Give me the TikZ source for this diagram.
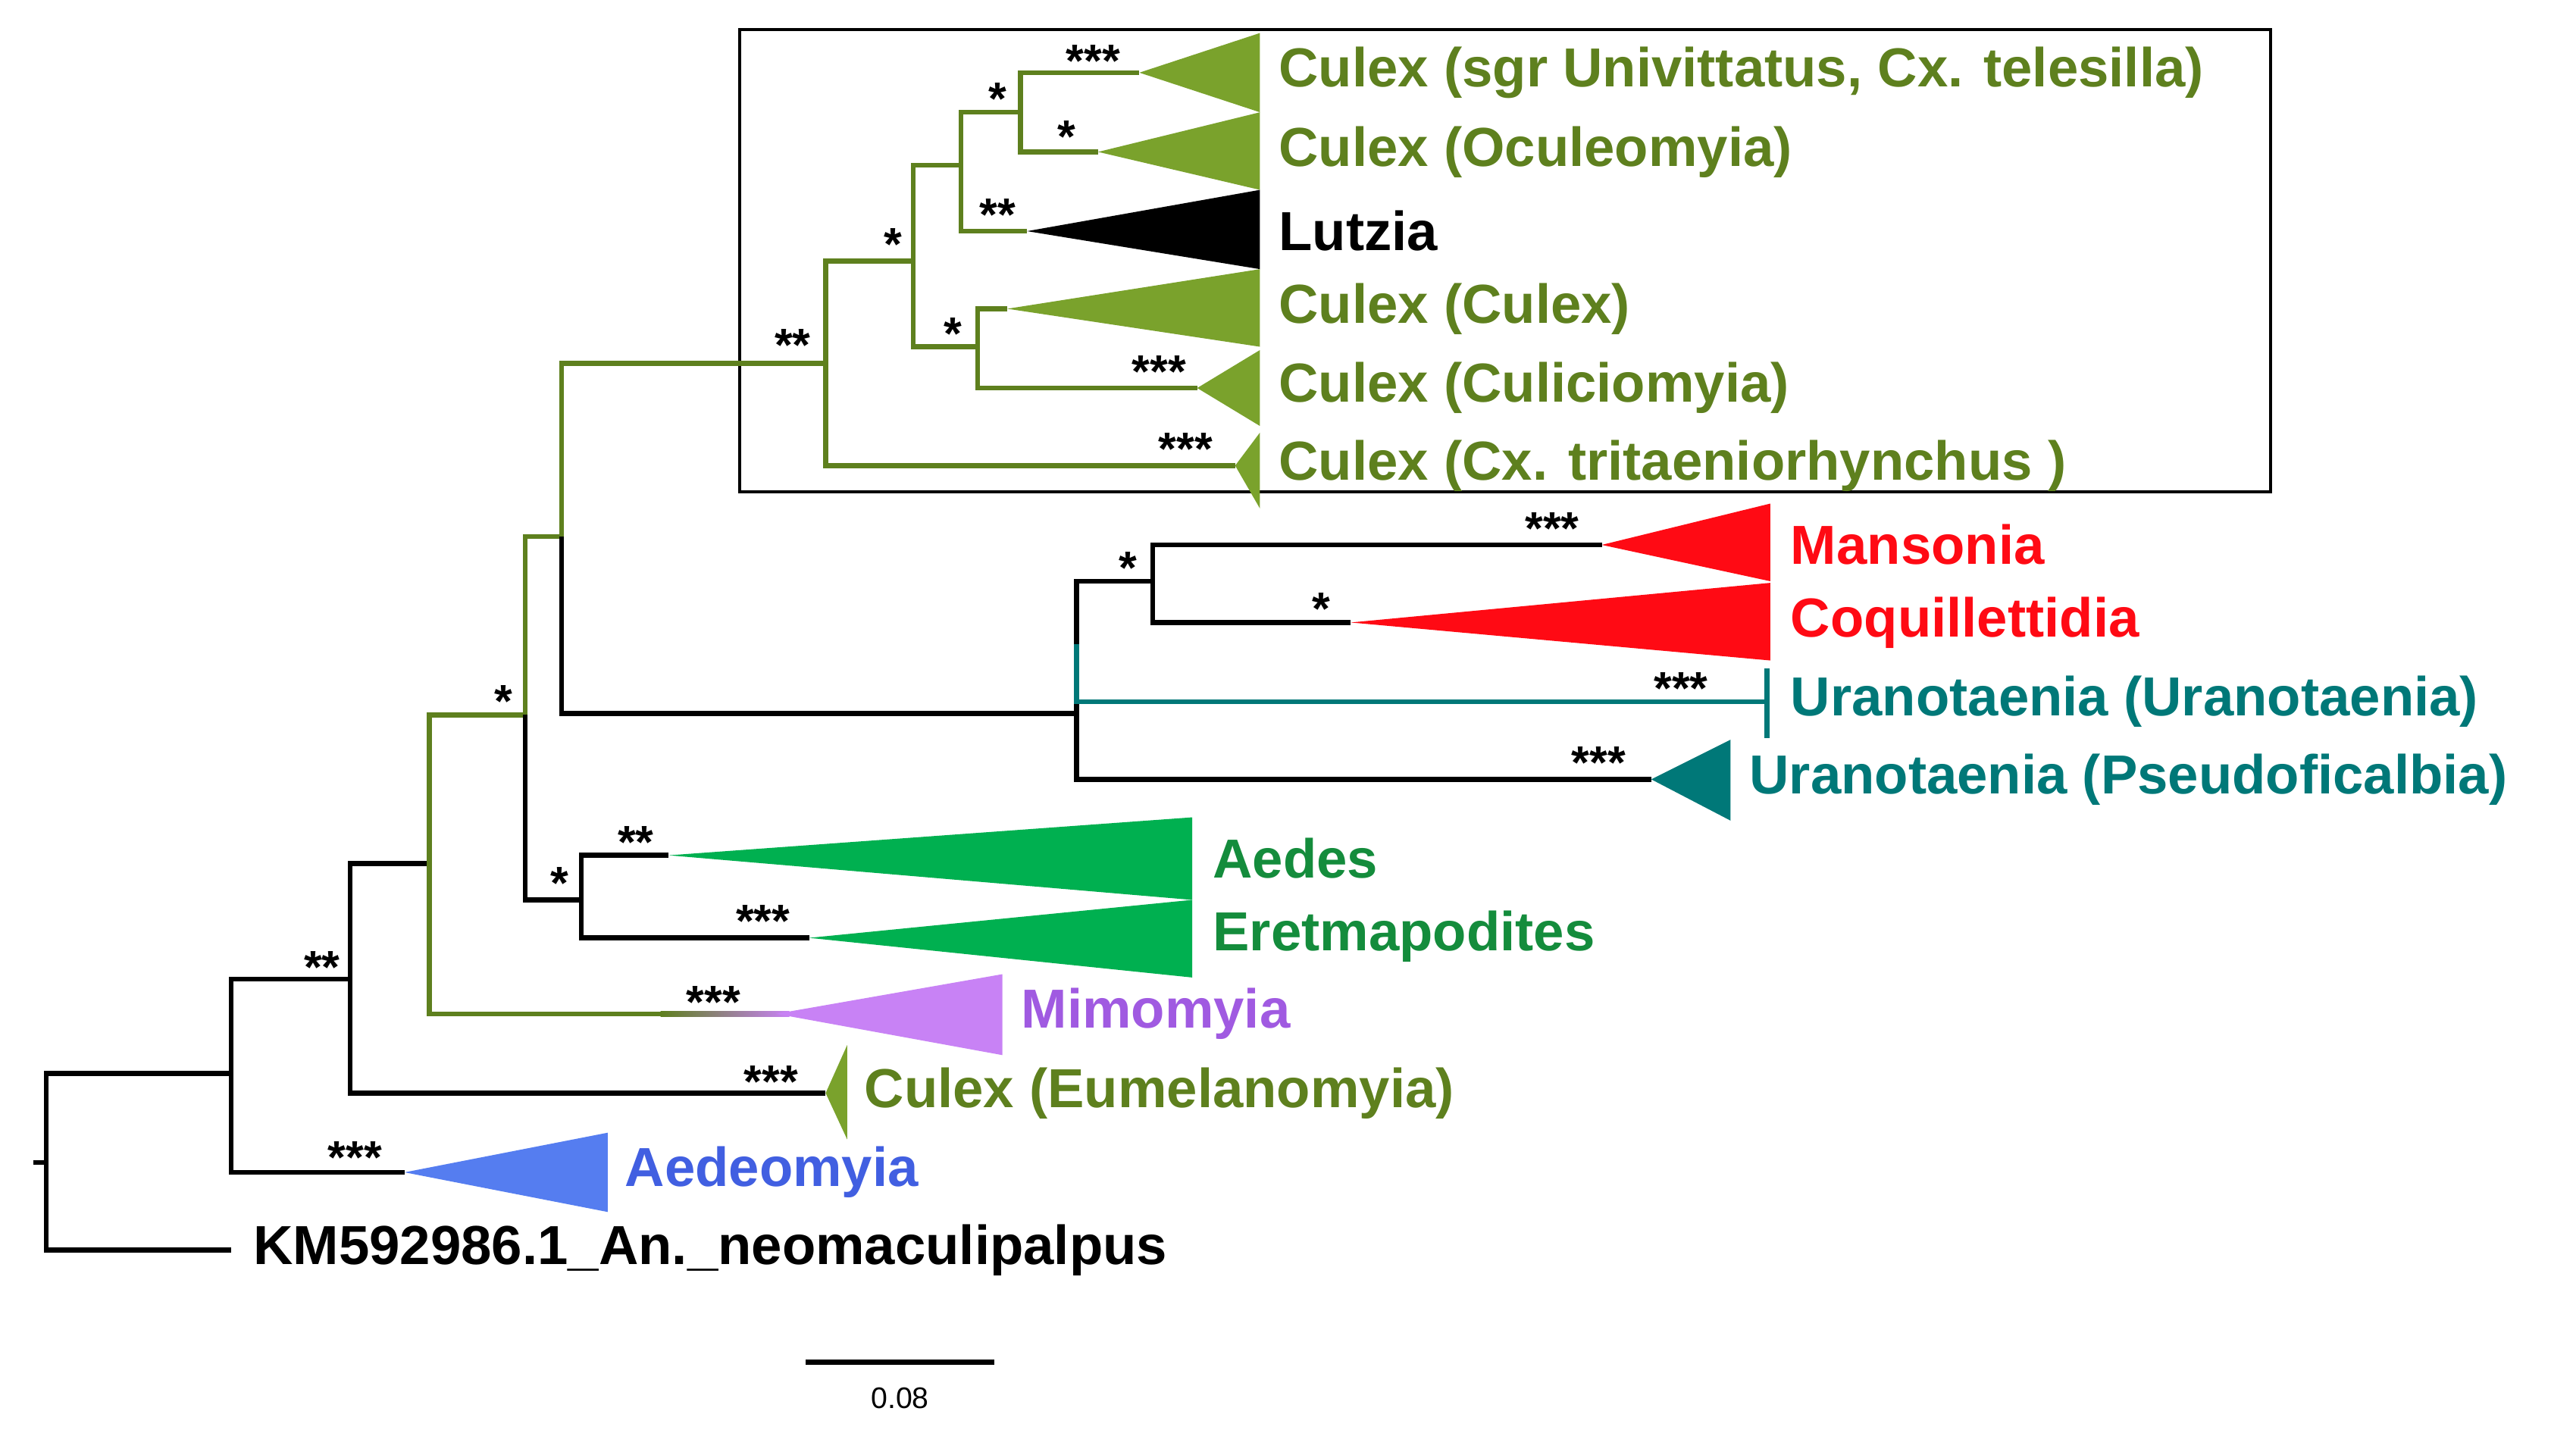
\documentclass[tikz,border=0pt]{standalone}
\usepackage{fontspec}
\setmainfont{Liberation Sans}
\begin{document}
\begin{tikzpicture}[x=1pt,y=-1pt,line width=3pt,
  lab/.style={font=\bfseries\fontsize{33.3}{34}\selectfont,anchor=west,inner sep=0pt},
  st/.style={font=\bfseries\fontsize{28}{28}\selectfont,inner sep=0pt}]
\definecolor{olv}{RGB}{94,128,30}
\definecolor{olvf}{RGB}{122,162,44}
\definecolor{grn}{RGB}{0,176,80}
\definecolor{grnt}{RGB}{20,140,60}
\definecolor{red1}{RGB}{255,10,20}
\definecolor{tl}{RGB}{0,120,120}
\definecolor{prp}{RGB}{200,130,245}
\definecolor{prpt}{RGB}{160,90,225}
\definecolor{blu}{RGB}{85,125,240}
\definecolor{blut}{RGB}{65,95,225}
\useasboundingbox (0,0) rectangle (1560,866);
% box
\draw[line width=2pt] (448,18) rectangle (1375,298);
% coordinates
\coordinate (root) at (28,704);
\coordinate (A) at (140,650);
\coordinate (B) at (212,593);
\coordinate (C) at (260,523);
\coordinate (D) at (318,433);
\coordinate (E) at (352,545);
\coordinate (F) at (340,325);
\coordinate (G) at (652,432);
\coordinate (H) at (698,352);
\coordinate (I) at (500,220);
\coordinate (J) at (553,158);
\coordinate (K) at (592,210);
\coordinate (L) at (582,100);
\coordinate (M) at (618,68);
% triangles
\fill[olvf] (690,44) -- (763,20) -- (763,68) -- cycle;
\fill[olvf] (665,92) -- (763,68) -- (763,115) -- cycle;
\fill[black] (622,140) -- (763,115) -- (763,163) -- cycle;
\fill[olvf] (610,187) -- (763,163) -- (763,210) -- cycle;
\fill[olvf] (725,235) -- (763,212) -- (763,258) -- cycle;
\fill[olvf] (748,282) -- (763,262) -- (763,308) -- cycle;
\fill[red1] (970,330) -- (1072,305) -- (1072,352) -- cycle;
\fill[red1] (818,377) -- (1072,353) -- (1072,400) -- cycle;
\fill[tl] (1000,472) -- (1048,448) -- (1048,497) -- cycle;
\fill[grn] (405,518) -- (722,495) -- (722,545) -- cycle;
\fill[grn] (490,568) -- (722,545) -- (722,592) -- cycle;
\fill[olvf] (500,662) -- (513,633) -- (513,690) -- cycle;
\fill[blu] (245,710) -- (368,686) -- (368,734) -- cycle;
% tree
\draw (20,704) -- (root);
\draw (A) |- (140,593) -- (B);
\draw (root) |- (A);
\draw (root) |- (140,757) node[lab,anchor=west,xshift=12pt,black] (km) {KM592986.1\_An.\_neomaculipalpus};
\draw (A) |- (245,710);
\draw (B) |- (500,662);
\draw (B) |- (C);
\draw[olv] (C) |- (400,614);
\shade[left color=olv,right color=prp] (400,612.5) rectangle (478,615.5);
\fill[prp] (470,614) -- (607,590) -- (607,639) -- cycle;
\draw[olv] (C) |- (D);
\draw (D) |- (E);
\draw[olv] (D) |- (F);
\draw (E) |- (405,518);
\draw (E) |- (490,568);
\draw (F) |- (G);
\draw[olv] (F) |- (I);
\draw (G) |- (H);
\draw (G) |- (1000,472);
\draw[tl] (652,390) -- (652,425) -- (1070,425);
\draw[tl] (1070,405) -- (1070,447);
\draw (H) |- (970,330);
\draw (H) |- (818,377);
\draw[olv] (I) |- (748,282);
\draw[olv] (I) |- (J);
\draw[olv] (J) |- (K);
\draw[olv] (J) |- (L);
\draw[olv] (K) |- (610,187);
\draw[olv] (K) |- (725,235);
\draw[olv] (L) |- (622,140);
\draw[olv] (L) |- (M);
\draw[olv] (M) |- (690,44);
\draw[olv] (M) |- (665,92);
% labels
\node[lab,text=olv] (l1) at (773,44) {Culex (sgr Univittatus, Cx. telesilla)};
\node[lab,text=olv] (l2) at (773,92) {Culex (Oculeomyia)};
\node[lab,text=black] (l3) at (773,140) {Lutzia};
\node[lab,text=olv] (l4) at (773,187) {Culex (Culex)};
\node[lab,text=olv] (l5) at (773,235) {Culex (Culiciomyia)};
\node[lab,text=olv] (l6) at (773,282) {Culex (Cx. tritaeniorhynchus )};
\node[lab,text=red1] (l7) at (1083,330) {Mansonia};
\node[lab,text=red1] (l8) at (1083,377) {Coquillettidia};
\node[lab,text=tl] (l9) at (1083,425) {Uranotaenia (Uranotaenia)};
\node[lab,text=tl] (l10) at (1058,472) {Uranotaenia (Pseudoficalbia)};
\node[lab,text=grnt] (l11) at (733,520) {Aedes};
\node[lab,text=grnt] (l12) at (733,567) {Eretmapodites};
\node[lab,text=prpt] (l13) at (617,614) {Mimomyia};
\node[lab,text=olv] (l14) at (522,662) {Culex (Eumelanomyia)};
\node[lab,text=blut] (l15) at (377,710) {Aedeomyia};
% support
\foreach \n/\x/\y/\t in {s1/662/37/***, s2/604/60/*, s3/646/83/*, s4/604/130/**, s5/541/148/*,
  s6/577/202/*, s7/702/225/***, s8/480/209/**, s9/718/272/***, s10/940/320/***, s11/683/344/*,
  s12/800/369/*, s13/1018/417/***, s14/968/462/***, s15/305/425/*, s16/385/510/**, s17/339/535/*,
  s18/462/558/***, s19/432/607/***, s20/195/586/**, s21/467/655/***, s22/215/701/***}
  \node[st] (\n) at (\x,\y) {\t};
% scale bar
\coordinate (sb1) at (488,825);
\coordinate (sb2) at (602,825);
\draw (sb1) -- (sb2);
\node[font=\fontsize{18}{18}\selectfont] (sbl) at (545,847) {0.08};
\end{tikzpicture}
\end{document}
